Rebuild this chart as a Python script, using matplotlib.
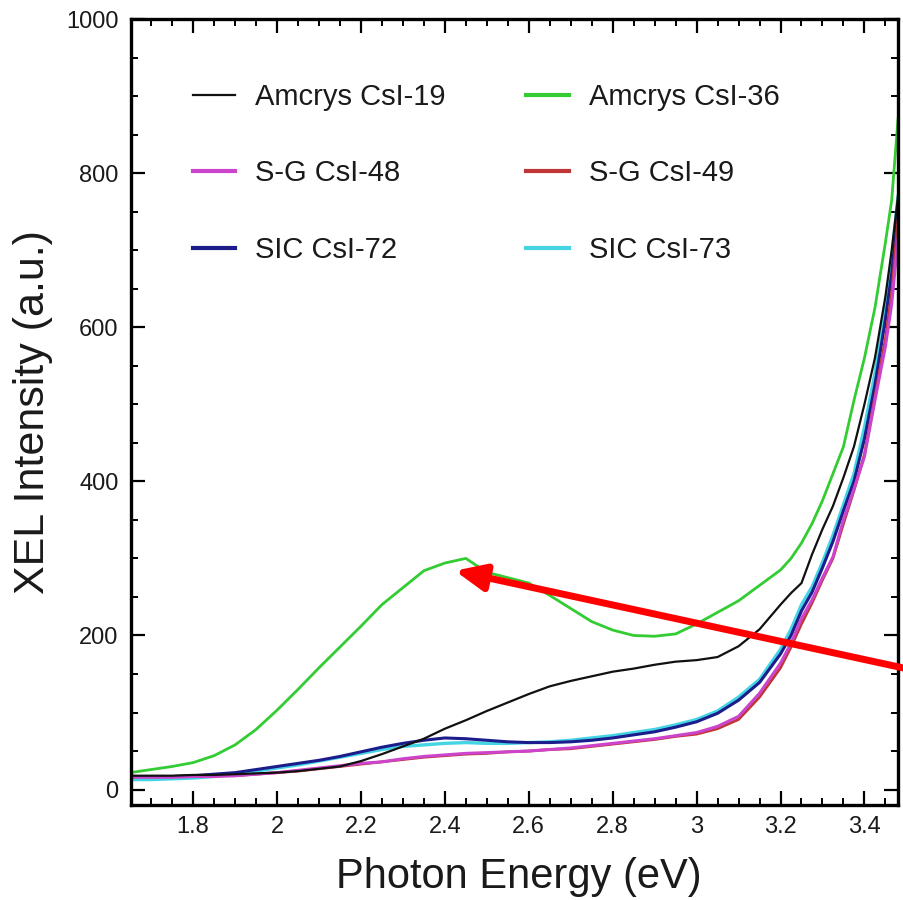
import matplotlib
matplotlib.use("Agg")
import matplotlib.pyplot as plt
from matplotlib.ticker import MultipleLocator, FuncFormatter

plt.rcParams['font.family'] = ['Liberation Sans', 'DejaVu Sans']

energy = [1.65, 1.70, 1.75, 1.80, 1.85, 1.90, 1.95, 2.00, 2.05, 2.10, 2.15, 2.20,
          2.25, 2.30, 2.35, 2.40, 2.45, 2.50, 2.55, 2.60, 2.65, 2.70, 2.75, 2.80,
          2.85, 2.90, 2.95, 3.00, 3.05, 3.10, 3.15, 3.20, 3.225, 3.25, 3.275, 3.30,
          3.325, 3.35, 3.375, 3.40, 3.425, 3.45, 3.465, 3.48]

amcrys19 = [18, 18, 18, 19, 19, 20, 21, 22, 24, 27, 30, 37, 46, 56, 66, 79,
            90, 102, 113, 124, 134, 141, 147, 153, 157, 162, 166, 168, 172, 186, 208, 240,
            255, 268, 305, 338, 368, 405, 445, 500, 560, 640, 700, 770]
amcrys36 = [22, 26, 30, 35, 44, 58, 78, 103, 130, 158, 185, 212, 240, 262, 284, 294,
            300, 282, 275, 268, 252, 235, 218, 207, 200, 199, 202, 215, 230, 245, 265, 285,
            300, 320, 345, 375, 410, 445, 505, 560, 625, 710, 765, 870]
sg48 = [16, 16, 16, 17, 17, 18, 20, 22, 25, 28, 31, 34, 36, 40, 43, 45,
        47, 48, 49, 50, 52, 54, 57, 60, 63, 66, 70, 74, 82, 95, 125, 164,
        190, 222, 246, 275, 302, 350, 390, 432, 505, 575, 630, 715]
sg49 = [17, 17, 17, 17, 18, 18, 20, 22, 24, 27, 30, 33, 36, 39, 42, 44,
        46, 47, 49, 50, 52, 53, 56, 59, 62, 65, 69, 72, 79, 91, 120, 158,
        185, 215, 242, 272, 300, 345, 388, 435, 510, 585, 645, 740]
sic72 = [17, 17, 17, 18, 20, 22, 26, 30, 34, 38, 43, 49, 55, 60, 64, 67,
         66, 64, 62, 61, 61, 62, 64, 67, 71, 75, 81, 88, 99, 116, 139, 176,
         200, 232, 256, 288, 322, 362, 400, 455, 525, 610, 670, 750]
sic73 = [13, 13, 14, 15, 17, 20, 24, 28, 32, 37, 42, 47, 52, 56, 58, 60,
         61, 60, 60, 61, 62, 64, 67, 70, 74, 78, 84, 91, 102, 120, 143, 182,
         208, 240, 263, 295, 330, 370, 410, 470, 540, 625, 690, 770]

labels = ["Amcrys CsI-19", "Amcrys CsI-36", "S-G CsI-48", "S-G CsI-49",
          "SIC CsI-72", "SIC CsI-73"]
series = [amcrys19, amcrys36, sg48, sg49, sic72, sic73]
colors = ["#111111", "#33cc33", "#cc44cc", "#c03535", "#1c1c8c", "#44d4e4"]
widths = [1.6, 2.0, 2.2, 2.0, 2.2, 2.4]

arrow_head = (2.424, 284)

txt = "#1a1a1a"
fig = plt.figure(figsize=(9.04, 9.0), dpi=100)
ax = fig.add_axes([131/904, 95/900, 767/904, 786/900])

order = [5, 4, 3, 2, 0, 1]
handles = {}
for i in order:
    h, = ax.plot(energy, series[i], color=colors[i], lw=widths[i], label=labels[i])
    handles[i] = h

ax.set_xlim(1.652, 3.48)
ax.set_ylim(-20, 1000)

ax.xaxis.set_major_locator(MultipleLocator(0.2))
ax.xaxis.set_minor_locator(MultipleLocator(0.05))
ax.yaxis.set_major_locator(MultipleLocator(200))
ax.yaxis.set_minor_locator(MultipleLocator(50))
ax.xaxis.set_major_formatter(FuncFormatter(lambda v, p: "%g" % round(v, 2)))
ax.yaxis.set_major_formatter(FuncFormatter(lambda v, p: "%g" % round(v, 2)))

ax.tick_params(which='both', direction='in', top=True, right=True, colors='black',
               labelcolor=txt, labelsize=17)
ax.tick_params(which='major', length=10, width=1.6)
ax.tick_params(which='minor', length=5, width=1.4)
ax.tick_params(axis='y', pad=9)
ax.tick_params(axis='x', pad=8)
for s in ax.spines.values():
    s.set_linewidth(2.4)

ax.set_xlabel("Photon Energy (eV)", fontsize=30, color=txt)
ax.xaxis.set_label_coords(0.505, -0.066)
ax.xaxis.label.set_va('top')
ax.set_ylabel("XEL Intensity (a.u.)", fontsize=31, color=txt)
ax.yaxis.set_label_coords(-0.102, 0.5)

# legend filled row by row: (19, 36), (48, 49), (72, 73)
leg_order = [0, 2, 4, 1, 3, 5]
leg = ax.legend([handles[i] for i in leg_order], [labels[i] for i in leg_order],
                ncol=2, frameon=False,
                loc='upper left', bbox_to_anchor=(193/904, 1 - 83/900),
                bbox_transform=fig.transFigure, fontsize=21, handlelength=1.45,
                handletextpad=0.69, columnspacing=2.76, labelspacing=1.66,
                borderpad=0, borderaxespad=0)
for t in leg.get_texts():
    t.set_color(txt)
for ln, i in zip(leg.get_lines(), leg_order):
    ln.set_linewidth(1.6 if i == 0 else 3.0)

ax.annotate("", xy=arrow_head, xycoords='data',
            xytext=(1.02, 0.2533), textcoords='figure fraction',
            arrowprops=dict(arrowstyle='-|>,head_length=0.9,head_width=0.4',
                            color='#ff0000', lw=5, shrinkA=0, shrinkB=0,
                            mutation_scale=20),
            annotation_clip=False)

fig.savefig("out.png", dpi=100)
